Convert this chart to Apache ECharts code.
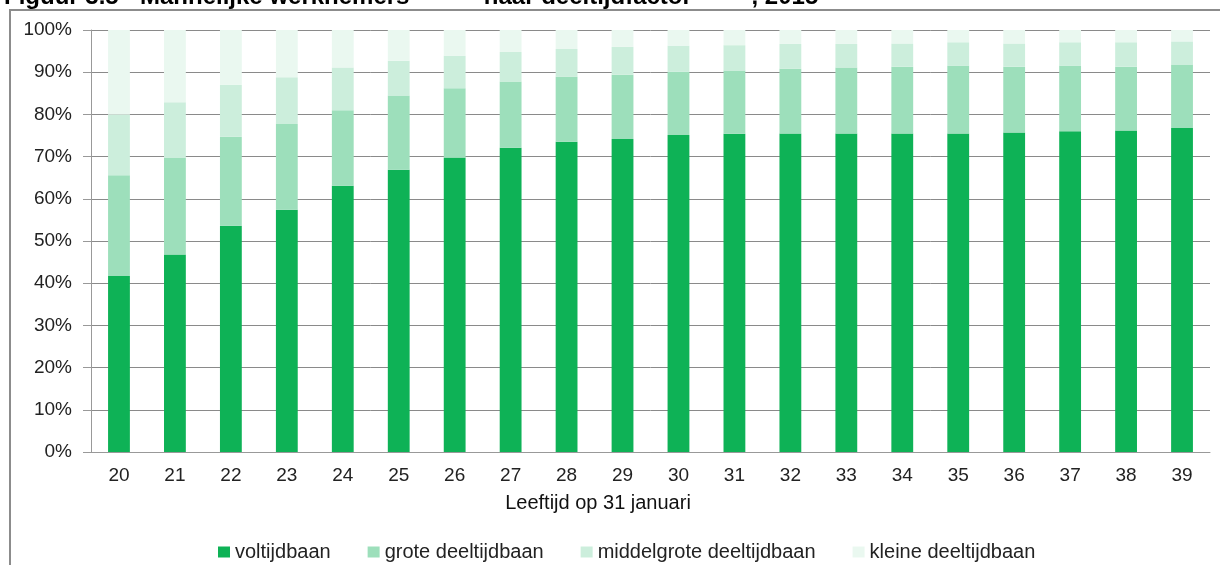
<!DOCTYPE html>
<html>
<head>
<meta charset="utf-8">
<script src="https://cdn.jsdelivr.net/npm/echarts@6/dist/echarts.min.js"></script>
<style>
  html, body { margin: 0; padding: 0; background: #fff; }
  #mChart { width: 1220px; height: 565px; }
</style>
</head>
<body>
<div id="mChart"></div>
<script>
  // leeftijd op 31 januari
  var leeftijden = ['20','21','22','23','24','25','26','27','28','29','30','31','32','33','34','35','36','37','38','39'];
  // aandelen in procenten per deeltijdfactor
  var voltijdbaan = [41.7, 46.8, 53.6, 57.4, 63.1, 66.9, 69.8, 72.1, 73.5, 74.2, 75.1, 75.4, 75.5, 75.5, 75.5, 75.5, 75.7, 76.0, 76.2, 76.8];
  var groteDeeltijd = [23.9, 23.0, 21.1, 20.3, 17.9, 17.6, 16.4, 15.7, 15.4, 15.2, 15.0, 15.0, 15.3, 15.6, 15.8, 16.0, 15.6, 15.5, 15.1, 15.0];
  var middelgroteDeeltijd = [14.4, 13.1, 12.3, 11.1, 10.1, 8.2, 7.7, 7.0, 6.6, 6.6, 6.2, 6.0, 5.9, 5.6, 5.5, 5.6, 5.5, 5.6, 5.8, 5.5];
  var kleineDeeltijd = [20.0, 17.1, 13.0, 11.2, 8.9, 7.3, 6.1, 5.2, 4.5, 4.0, 3.7, 3.6, 3.3, 3.3, 3.2, 2.9, 3.2, 2.9, 2.9, 2.7];
  var seriesNamen = ['voltijdbaan', 'grote deeltijdbaan', 'middelgrote deeltijdbaan', 'kleine deeltijdbaan'];
  var kleuren = ['#0eb256', '#9ddfbb', '#cceedc', '#eaf8f0'];

  var myChart = echarts.init(document.getElementById('mChart'));
  var reeksen = [voltijdbaan, groteDeeltijd, middelgroteDeeltijd, kleineDeeltijd];

  myChart.setOption({
    animation: false,
    color: kleuren,
    textStyle: { fontFamily: '"Liberation Sans", Arial, sans-serif' },
    graphic: [
      {
        type: 'rect',
        shape: { x: 10, y: 10, width: 1240, height: 600 },
        style: { fill: 'none', stroke: '#8c8c8c', lineWidth: 2 },
        silent: true
      },
      {
        // titel valt grotendeels buiten beeld, net als in het origineel
        type: 'text',
        x: 4, y: 9,
        style: {
          text: 'Figuur 3.5 - Mannelijke werknemers \u00b9\u207e      - naar deeltijdfactor \u00b2\u207e      , 2015',
          font: 'bold 24px "Liberation Sans", Arial, sans-serif',
          fill: '#000',
          verticalAlign: 'bottom'
        }
      },
      {
        type: 'text',
        x: 598, y: 503,
        style: {
          text: 'Leeftijd op 31 januari',
          font: '20px "Liberation Sans", Arial, sans-serif',
          fill: '#111',
          align: 'center',
          verticalAlign: 'middle'
        }
      }
    ],
    legend: {
      data: seriesNamen,
      left: 213,
      top: 537,
      itemWidth: 12,
      itemHeight: 11,
      itemGap: 37,
      icon: 'rect',
      textStyle: { fontSize: 20, color: '#222' }
    },
    grid: { left: 91, right: 10, top: 30, bottom: 113 },
    xAxis: {
      type: 'category',
      data: leeftijden,
      axisLine: { lineStyle: { color: '#999', width: 1 } },
      axisTick: { length: 6, lineStyle: { color: '#999' } },
      axisLabel: { fontSize: 19, color: '#222', margin: 14 }
    },
    yAxis: {
      type: 'value',
      min: 0,
      max: 100,
      interval: 10,
      axisLine: { show: true, lineStyle: { color: '#999' } },
      axisTick: { show: true, length: 8, lineStyle: { color: '#999' } },
      axisLabel: { fontSize: 19, color: '#222', margin: 19, formatter: '{value}%' },
      splitLine: { lineStyle: { color: '#8a8a8a', width: 1 } }
    },
    series: seriesNamen.map(function (naam, i) {
      return {
        name: naam,
        type: 'bar',
        stack: 'totaal',
        barWidth: '39%',
        data: reeksen[i]
      };
    })
  });
</script>
</body>
</html>
